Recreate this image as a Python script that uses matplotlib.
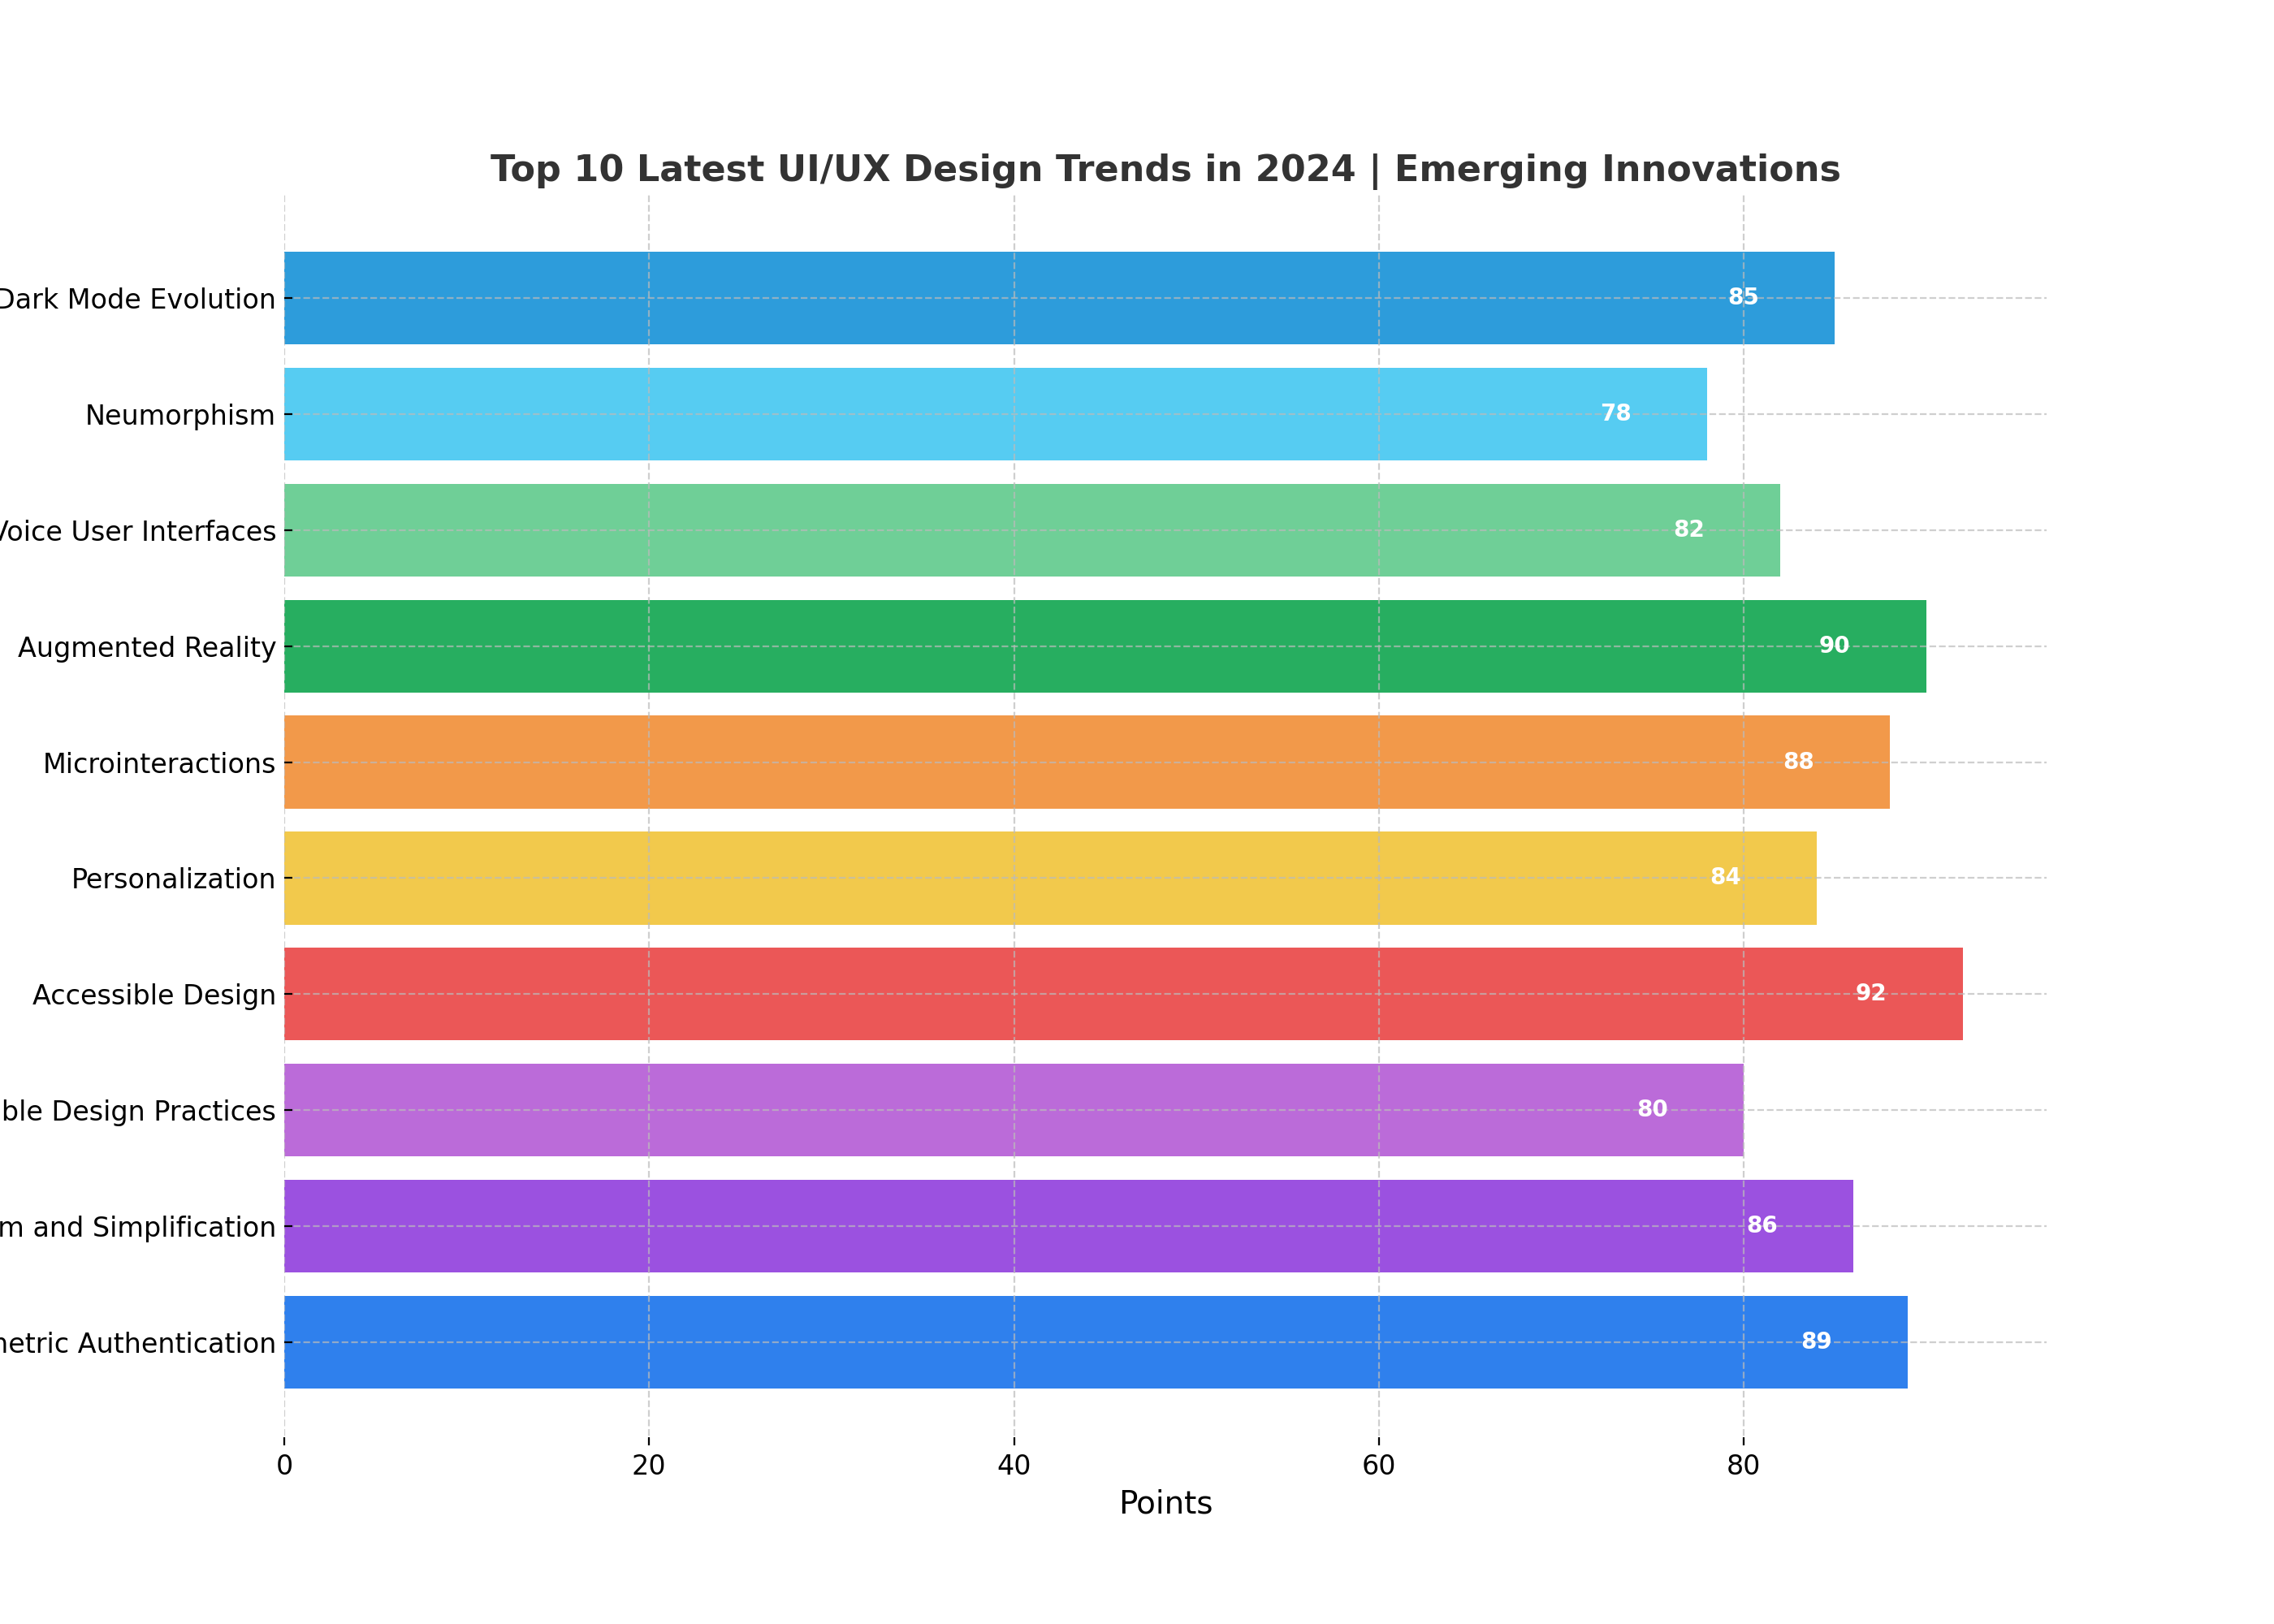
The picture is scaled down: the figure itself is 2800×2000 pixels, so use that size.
import matplotlib
matplotlib.use("Agg")
import matplotlib.pyplot as plt

categories = [
    "Biometric Authentication",
    "Minimalism and Simplification",
    "Sustainable Design Practices",
    "Accessible Design",
    "Personalization",
    "Microinteractions",
    "Augmented Reality",
    "Voice User Interfaces",
    "Neumorphism",
    "Dark Mode Evolution",
]
points = [89, 86, 80, 92, 84, 88, 90, 82, 78, 85]
colors = ["#2F80ED", "#9B51E0", "#BB6BD9", "#EB5757", "#F2C94C",
          "#F2994A", "#27AE60", "#6FCF97", "#56CCF2", "#2D9CDB"]

fig = plt.figure(figsize=(14, 10), dpi=200)
ax = fig.add_axes([0.125, 0.11, 0.775, 0.77])

bars = ax.barh(categories, points, color=colors, height=0.8)
for bar, v in zip(bars, points):
    ax.text(v - 5, bar.get_y() + bar.get_height() / 2, f"{v}",
            ha="center", va="center", color="white", fontsize=10, fontweight="bold")

ax.set_xlim(0, max(points) * 1.05)
ax.set_xlabel("Points", fontsize=14)
ax.set_title("Top 10 Latest UI/UX Design Trends in 2024 | Emerging Innovations",
             fontsize=16, fontweight="bold", color="#333333")
ax.tick_params(axis="both", labelsize=12, direction="in")
for s in ax.spines.values():
    s.set_visible(False)
ax.grid(True, linestyle="--", color="#bbbbbb", linewidth=0.8, alpha=0.7)

fig.savefig("out.png", dpi=200)
